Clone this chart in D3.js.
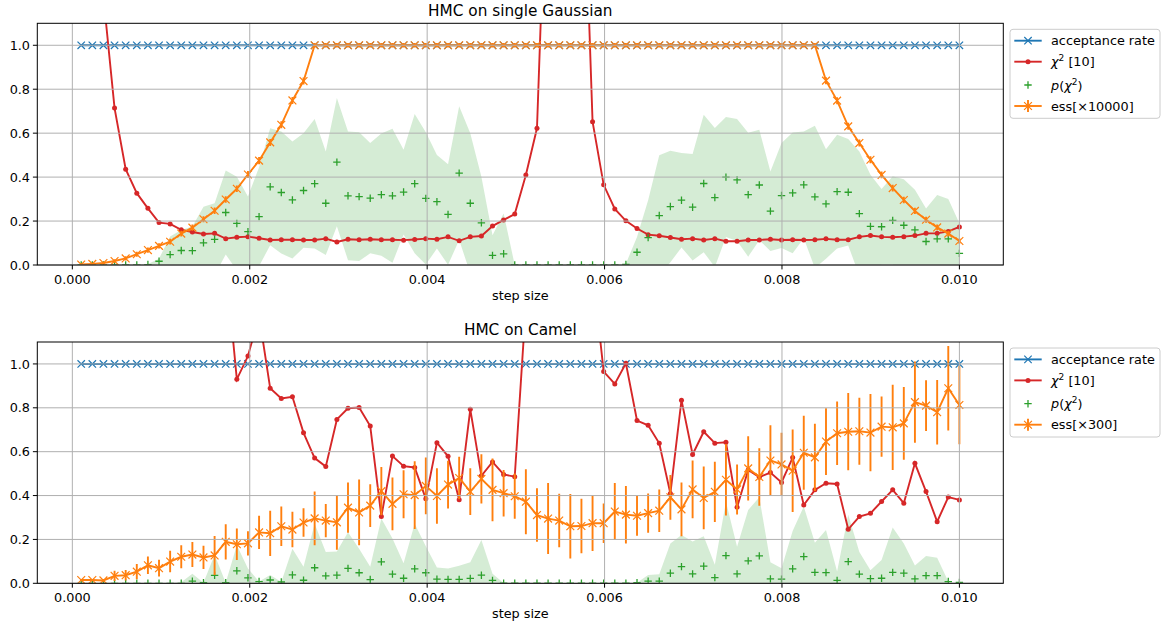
<!DOCTYPE html>
<html>
<head>
<meta charset="utf-8">
<script src="https://cdn.jsdelivr.net/npm/d3@7/dist/d3.min.js"></script>
<style>
    body { margin: 0; background: #ffffff; }
    svg text { font-family: "DejaVu Sans", sans-serif; fill: #000; }
</style>
</head>
<body>
<script>
/* ----------------------------------------------------------------------------
HMC diagnostics: two panels (single Gaussian, Camel), step size on x axis.
-----------------------------------------------------------------------------*/

// step sizes (x axis)
var stepSize = [
    0.0001000, 0.0002253, 0.0003506, 0.0004759, 0.0006013, 0.0007266,
    0.0008519, 0.0009772, 0.0011025, 0.0012278, 0.0013532, 0.0014785,
    0.0016038, 0.0017291, 0.0018544, 0.0019797, 0.0021051, 0.0022304,
    0.0023557, 0.0024810, 0.0026063, 0.0027316, 0.0028570, 0.0029823,
    0.0031076, 0.0032329, 0.0033582, 0.0034835, 0.0036089, 0.0037342,
    0.0038595, 0.0039848, 0.0041101, 0.0042354, 0.0043608, 0.0044861,
    0.0046114, 0.0047367, 0.0048620, 0.0049873, 0.0051127, 0.0052380,
    0.0053633, 0.0054886, 0.0056139, 0.0057392, 0.0058646, 0.0059899,
    0.0061152, 0.0062405, 0.0063658, 0.0064911, 0.0066165, 0.0067418,
    0.0068671, 0.0069924, 0.0071177, 0.0072430, 0.0073684, 0.0074937,
    0.0076190, 0.0077443, 0.0078696, 0.0079949, 0.0081203, 0.0082456,
    0.0083709, 0.0084962, 0.0086215, 0.0087468, 0.0088722, 0.0089975,
    0.0091228, 0.0092481, 0.0093734, 0.0094987, 0.0096241, 0.0097494,
    0.0098747, 0.0100000];

var xTicks = [0.000, 0.002, 0.004, 0.006, 0.008, 0.010];
var yTicks = [0.0, 0.2, 0.4, 0.6, 0.8, 1.0];

// ---------------- panel 1: HMC on single Gaussian ----------------
var accRate1 = [
    1, 1, 1, 1, 1, 1, 1, 1, 1, 1, 1, 1, 1, 1, 1, 1, 1, 1, 1, 1,
    1, 1, 1, 1, 1, 1, 1, 1, 1, 1, 1, 1, 1, 1, 1, 1, 1, 1, 1, 1,
    1, 1, 1, 1, 1, 1, 1, 1, 1, 1, 1, 1, 1, 1, 1, 1, 1, 1, 1, 1,
    1, 1, 1, 1, 1, 1, 1, 1, 1, 1, 1, 1, 1, 1, 1, 1, 1, 1, 1, 1];

var chi2_1 = [
    5.0, 2.5, 1.22, 0.714, 0.436, 0.327, 0.258, 0.193, 0.187, 0.160,
    0.150, 0.141, 0.144, 0.120, 0.126, 0.129, 0.122, 0.114, 0.115, 0.115,
    0.114, 0.114, 0.120, 0.105, 0.117, 0.115, 0.117, 0.115, 0.115, 0.113,
    0.116, 0.120, 0.117, 0.128, 0.110, 0.128, 0.132, 0.177, 0.205, 0.232,
    0.410, 0.622, 2.06, 5.0, 5.0, 2.14, 0.652, 0.365, 0.255, 0.201,
    0.166, 0.138, 0.133, 0.125, 0.117, 0.120, 0.114, 0.120, 0.108, 0.108,
    0.114, 0.114, 0.117, 0.114, 0.115, 0.114, 0.115, 0.119, 0.115, 0.115,
    0.128, 0.134, 0.128, 0.126, 0.129, 0.134, 0.144, 0.144, 0.153, 0.173];

var pChi2_1 = [
    0.0, 0.0, 0.0, 0.0, 0.0, 0.0, 0.002, 0.017, 0.047, 0.066,
    0.065, 0.101, 0.117, 0.239, 0.189, 0.152, 0.220, 0.356, 0.330, 0.296,
    0.339, 0.370, 0.281, 0.468, 0.315, 0.311, 0.304, 0.320, 0.315, 0.332,
    0.370, 0.303, 0.288, 0.230, 0.418, 0.281, 0.192, 0.044, 0.051, 0.0,
    0.0, 0.0, 0.0, 0.0, 0.0, 0.0, 0.0, 0.0, 0.0, 0.003,
    0.058, 0.125, 0.225, 0.266, 0.295, 0.263, 0.371, 0.307, 0.400, 0.387,
    0.320, 0.364, 0.245, 0.316, 0.328, 0.365, 0.310, 0.278, 0.334, 0.331,
    0.234, 0.176, 0.174, 0.203, 0.181, 0.160, 0.107, 0.119, 0.119, 0.053];

var pStd1 = [
    0.0, 0.0, 0.0, 0.0, 0.0, 0.0, 0.002, 0.012, 0.083, 0.093,
    0.110, 0.164, 0.164, 0.191, 0.213, 0.160, 0.225, 0.266, 0.278, 0.266,
    0.261, 0.295, 0.236, 0.292, 0.293, 0.293, 0.251, 0.278, 0.305, 0.193,
    0.317, 0.301, 0.213, 0.229, 0.304, 0.319, 0.210, 0.091, 0.183, 0.0,
    0.0, 0.0, 0.0, 0.0, 0.0, 0.0, 0.0, 0.0, 0.0, 0.003,
    0.070, 0.170, 0.275, 0.254, 0.215, 0.242, 0.313, 0.316, 0.273, 0.278,
    0.282, 0.251, 0.181, 0.239, 0.275, 0.243, 0.324, 0.249, 0.259, 0.242,
    0.283, 0.235, 0.172, 0.201, 0.209, 0.182, 0.150, 0.200, 0.181, 0.137];

var ess1 = [
    0.002, 0.005, 0.009, 0.018, 0.030, 0.049, 0.068, 0.087, 0.106, 0.143,
    0.170, 0.208, 0.247, 0.298, 0.347, 0.412, 0.475, 0.558, 0.638, 0.749,
    0.837, 1, 1, 1, 1, 1, 1, 1, 1, 1,
    1, 1, 1, 1, 1, 1, 1, 1, 1, 1,
    1, 1, 1, 1, 1, 1, 1, 1, 1, 1,
    1, 1, 1, 1, 1, 1, 1, 1, 1, 1,
    1, 1, 1, 1, 1, 1, 1, 0.839, 0.748, 0.631,
    0.555, 0.479, 0.410, 0.350, 0.296, 0.246, 0.206, 0.171, 0.143, 0.109];

var essErr1 = [
    0.004, 0.005, 0.006, 0.008, 0.010, 0.011, 0.012, 0.012, 0.013, 0.013,
    0.014, 0.014, 0.015, 0.015, 0.015, 0.016, 0.016, 0.016, 0.016, 0.016,
    0.016, 0.010, 0.010, 0.010, 0.010, 0.010, 0.010, 0.010, 0.010, 0.010,
    0.010, 0.010, 0.010, 0.010, 0.010, 0.010, 0.010, 0.010, 0.010, 0.010,
    0.010, 0.010, 0.010, 0.010, 0.010, 0.010, 0.010, 0.010, 0.010, 0.010,
    0.010, 0.010, 0.010, 0.010, 0.010, 0.010, 0.010, 0.010, 0.010, 0.010,
    0.010, 0.010, 0.010, 0.010, 0.010, 0.010, 0.010, 0.016, 0.016, 0.016,
    0.016, 0.016, 0.015, 0.015, 0.015, 0.014, 0.014, 0.013, 0.013, 0.012];

// ---------------- panel 2: HMC on Camel ----------------
var accRate2 = [
    1, 1, 1, 1, 1, 1, 1, 1, 1, 1, 1, 1, 1, 1, 1, 1, 1, 1, 1, 1,
    1, 1, 1, 1, 1, 1, 1, 1, 1, 1, 1, 1, 1, 1, 1, 1, 1, 1, 1, 1,
    1, 1, 1, 1, 1, 1, 1, 1, 1, 1, 1, 1, 1, 1, 1, 1, 1, 1, 1, 1,
    1, 1, 1, 1, 1, 1, 1, 1, 1, 1, 1, 1, 1, 1, 1, 1, 1, 1, 1, 1];

var chi2_2 = [
    5.0, 5.0, 5.0, 5.0, 5.0, 5.0, 5.0, 5.0, 5.0, 5.0,
    5.0, 5.0, 5.0, 1.46, 0.930, 1.036, 1.22, 0.889, 0.843, 0.850,
    0.686, 0.571, 0.532, 0.747, 0.798, 0.801, 0.717, 0.305, 0.580, 0.534,
    0.528, 0.385, 0.641, 0.579, 0.381, 0.793, 0.490, 0.553, 0.496, 0.486,
    1.27, 5.0, 5.0, 5.0, 5.0, 5.0, 1.43, 0.965, 0.909, 1.003,
    0.742, 0.720, 0.638, 0.409, 0.835, 0.587, 0.691, 0.639, 0.643, 0.347,
    0.517, 0.484, 0.505, 0.460, 0.573, 0.357, 0.426, 0.456, 0.453, 0.246,
    0.304, 0.319, 0.373, 0.426, 0.365, 0.547, 0.418, 0.281, 0.393, 0.380];

var pChi2_2 = [
    0.0, 0.0, 0.0, 0.0, 0.0, 0.0, 0.0, 0.0, 0.0, 0.0,
    0.010, 0.003, 0.036, 0.003, 0.057, 0.025, 0.008, 0.015, 0.006, 0.038,
    0.014, 0.071, 0.034, 0.037, 0.068, 0.048, 0.017, 0.098, 0.042, 0.023,
    0.066, 0.048, 0.019, 0.018, 0.018, 0.022, 0.037, 0.013, 0.001, 0.001,
    0.001, 0.001, 0.001, 0.001, 0.001, 0.001, 0.001, 0.001, 0.001, 0.001,
    0.003, 0.010, 0.010, 0.046, 0.076, 0.043, 0.078, 0.026, 0.126, 0.043,
    0.102, 0.125, 0.020, 0.019, 0.066, 0.122, 0.050, 0.049, 0.013, 0.099,
    0.042, 0.021, 0.023, 0.050, 0.046, 0.020, 0.035, 0.035, 0.008, 0.004];

var pStd2 = [
    0.0, 0.0, 0.0, 0.0, 0.0, 0.0, 0.0, 0.0, 0.0, 0.005,
    0.033, 0.0, 0.094, 0.0, 0.117, 0.042, 0.0, 0.023, 0.0, 0.120,
    0.061, 0.200, 0.109, 0.108, 0.165, 0.110, 0.058, 0.197, 0.162, 0.068,
    0.205, 0.121, 0.053, 0.050, 0.062, 0.074, 0.160, 0.031, 0.0, 0.0,
    0.0, 0.0, 0.0, 0.0, 0.0, 0.0, 0.0, 0.0, 0.0, 0.0,
    0.0, 0.028, 0.031, 0.136, 0.144, 0.147, 0.137, 0.058, 0.246, 0.124,
    0.232, 0.267, 0.076, 0.050, 0.172, 0.228, 0.135, 0.194, 0.041, 0.213,
    0.101, 0.038, 0.083, 0.204, 0.136, 0.061, 0.090, 0.082, 0.0, 0.0];

var ess2 = [
    0.015, 0.015, 0.013, 0.034, 0.037, 0.053, 0.082, 0.069, 0.099, 0.121,
    0.131, 0.118, 0.127, 0.189, 0.178, 0.182, 0.232, 0.228, 0.260, 0.245,
    0.277, 0.296, 0.286, 0.278, 0.345, 0.323, 0.354, 0.420, 0.362, 0.406,
    0.402, 0.444, 0.398, 0.450, 0.480, 0.418, 0.476, 0.426, 0.411, 0.397,
    0.372, 0.311, 0.295, 0.286, 0.260, 0.261, 0.274, 0.274, 0.327, 0.313,
    0.308, 0.320, 0.331, 0.392, 0.337, 0.428, 0.389, 0.417, 0.472, 0.428,
    0.524, 0.485, 0.560, 0.542, 0.513, 0.595, 0.574, 0.646, 0.684, 0.691,
    0.693, 0.687, 0.714, 0.711, 0.729, 0.826, 0.810, 0.780, 0.889, 0.813];

var essErr2 = [
    0.005, 0.005, 0.005, 0.023, 0.024, 0.035, 0.040, 0.038, 0.049, 0.052,
    0.057, 0.053, 0.089, 0.080, 0.072, 0.055, 0.076, 0.103, 0.090, 0.081,
    0.065, 0.122, 0.076, 0.125, 0.115, 0.150, 0.097, 0.110, 0.120, 0.109,
    0.154, 0.129, 0.126, 0.109, 0.097, 0.107, 0.112, 0.143, 0.106, 0.103,
    0.148, 0.122, 0.162, 0.122, 0.147, 0.124, 0.127, 0.090, 0.130, 0.131,
    0.091, 0.089, 0.097, 0.102, 0.122, 0.132, 0.143, 0.137, 0.163, 0.114,
    0.146, 0.131, 0.160, 0.144, 0.188, 0.169, 0.153, 0.152, 0.145, 0.176,
    0.153, 0.176, 0.137, 0.194, 0.166, 0.185, 0.116, 0.147, 0.193, 0.179];

/* ----------------------------------------------------------------------------
Layout (pixels of the 1166x626 picture)
-----------------------------------------------------------------------------*/
var width = 1166, height = 626;
var plotLeft = 37.3, plotRight = 1003.3;
var fontSize = "12.8px";
var colors = {acc: "#1f77b4", chi2: "#d62728", p: "#2ca02c", ess: "#ff7f0e"};

var svg = d3.select("body").append("svg")
    .attr("width", width)
    .attr("height", height);

// matplotlib default 5% margin round the data range
var xScale = d3.scaleLinear()
    .domain([-0.000395, 0.010495])
    .range([plotLeft, plotRight]);

// marker shapes
function xMark(s) {
    return "M" + (-s) + "," + (-s) + "L" + s + "," + s +
           "M" + (-s) + "," + s + "L" + s + "," + (-s);
}
function plusMark(s) {
    return "M" + (-s) + ",0L" + s + ",0M0," + (-s) + "L0," + s;
}

function drawPanel(cfg) {
    var yScale = d3.scaleLinear().domain([0, 1.1])
        .range([cfg.bottom, cfg.top]);
    var idx = d3.range(stepSize.length);
    var g = svg.append("g");

    // clip everything to the axes box
    var clipId = "clip" + cfg.id;
    g.append("clipPath").attr("id", clipId)
        .append("rect")
        .attr("x", plotLeft).attr("y", cfg.top)
        .attr("width", plotRight - plotLeft)
        .attr("height", cfg.bottom - cfg.top);
    var plot = g.append("g").attr("clip-path", "url(#" + clipId + ")");

    // p(chi2) band, drawn under the grid
    var band = d3.area()
        .x(function (i) { return xScale(stepSize[i]); })
        .y0(function (i) { return yScale(cfg.p[i] - cfg.pStd[i]); })
        .y1(function (i) { return yScale(cfg.p[i] + cfg.pStd[i]); });
    plot.append("path")
        .attr("d", band(idx))
        .attr("fill", colors.p)
        .attr("fill-opacity", 0.2);

    // grid
    g.selectAll(".gx").data(xTicks).enter().append("line")
        .attr("x1", function (d) { return xScale(d); })
        .attr("x2", function (d) { return xScale(d); })
        .attr("y1", cfg.top).attr("y2", cfg.bottom)
        .attr("stroke", "#b0b0b0").attr("stroke-width", 1);
    g.selectAll(".gy").data(yTicks).enter().append("line")
        .attr("x1", plotLeft).attr("x2", plotRight)
        .attr("y1", function (d) { return yScale(d); })
        .attr("y2", function (d) { return yScale(d); })
        .attr("stroke", "#b0b0b0").attr("stroke-width", 1);

    function line(values) {
        return d3.line()
            .x(function (i) { return xScale(stepSize[i]); })
            .y(function (i) { return yScale(values[i]); })(idx);
    }

    // acceptance rate
    plot.append("path").attr("d", line(cfg.acc))
        .attr("fill", "none").attr("stroke", colors.acc)
        .attr("stroke-width", 1.9);
    plot.selectAll(".acc").data(idx).enter().append("path")
        .attr("d", xMark(3.7))
        .attr("transform", function (i) {
            return "translate(" + xScale(stepSize[i]) + "," +
                yScale(cfg.acc[i]) + ")";
        })
        .attr("fill", "none").attr("stroke", colors.acc)
        .attr("stroke-width", 1.2);

    // chi2
    plot.append("path").attr("d", line(cfg.chi2))
        .attr("fill", "none").attr("stroke", colors.chi2)
        .attr("stroke-width", 1.9);
    plot.selectAll(".chi").data(idx).enter().append("circle")
        .attr("cx", function (i) { return xScale(stepSize[i]); })
        .attr("cy", function (i) { return yScale(cfg.chi2[i]); })
        .attr("r", 2.5)
        .attr("fill", colors.chi2);

    // p(chi2) markers only
    plot.selectAll(".pm").data(idx).enter().append("path")
        .attr("d", plusMark(3.7))
        .attr("transform", function (i) {
            return "translate(" + xScale(stepSize[i]) + "," +
                yScale(cfg.p[i]) + ")";
        })
        .attr("fill", "none").attr("stroke", colors.p)
        .attr("stroke-width", 1.3);

    // ess with error bars
    plot.selectAll(".err").data(idx).enter().append("line")
        .attr("x1", function (i) { return xScale(stepSize[i]); })
        .attr("x2", function (i) { return xScale(stepSize[i]); })
        .attr("y1", function (i) { return yScale(cfg.ess[i] - cfg.essErr[i]); })
        .attr("y2", function (i) { return yScale(cfg.ess[i] + cfg.essErr[i]); })
        .attr("stroke", colors.ess).attr("stroke-width", 1.9);
    plot.append("path").attr("d", line(cfg.ess))
        .attr("fill", "none").attr("stroke", colors.ess)
        .attr("stroke-width", 1.9);
    plot.selectAll(".em").data(idx).enter().append("path")
        .attr("d", xMark(3.9))
        .attr("transform", function (i) {
            return "translate(" + xScale(stepSize[i]) + "," +
                yScale(cfg.ess[i]) + ")";
        })
        .attr("fill", "none").attr("stroke", colors.ess)
        .attr("stroke-width", 1.2);

    // spines
    g.append("rect")
        .attr("x", plotLeft).attr("y", cfg.top)
        .attr("width", plotRight - plotLeft)
        .attr("height", cfg.bottom - cfg.top)
        .attr("fill", "none").attr("stroke", "#000").attr("stroke-width", 1);

    // x ticks and labels
    var xt = g.selectAll(".xt").data(xTicks).enter().append("g")
        .attr("transform", function (d) {
            return "translate(" + xScale(d) + "," + cfg.bottom + ")";
        });
    xt.append("line").attr("y1", 0).attr("y2", 4.4)
        .attr("stroke", "#000").attr("stroke-width", 1);
    xt.append("text").attr("y", 19.2)
        .attr("text-anchor", "middle").attr("font-size", fontSize)
        .text(d3.format(".3f"));

    // y ticks and labels
    var yt = g.selectAll(".yt").data(yTicks).enter().append("g")
        .attr("transform", function (d) {
            return "translate(" + plotLeft + "," + yScale(d) + ")";
        });
    yt.append("line").attr("x1", 0).attr("x2", -4.4)
        .attr("stroke", "#000").attr("stroke-width", 1);
    yt.append("text").attr("x", -7.3).attr("dy", "0.36em")
        .attr("text-anchor", "end").attr("font-size", fontSize)
        .text(d3.format(".1f"));

    // title and axis label
    g.append("text")
        .attr("x", (plotLeft + plotRight) / 2).attr("y", cfg.top - 7.3)
        .attr("text-anchor", "middle").attr("font-size", "15.3px")
        .text(cfg.title);
    g.append("text")
        .attr("x", (plotLeft + plotRight) / 2).attr("y", cfg.bottom + 34.5)
        .attr("text-anchor", "middle").attr("font-size", fontSize)
        .text("step size");

    // legend
    var lg = g.append("g").attr("transform",
        "translate(1010," + (cfg.top + 6) + ")");
    lg.append("rect")
        .attr("width", 150).attr("height", 89).attr("rx", 3)
        .attr("fill", "#fff").attr("fill-opacity", 0.8)
        .attr("stroke", "#cccccc").attr("stroke-width", 1);
    var rows = [11.4, 32.4, 55.7, 76.7];
    var hx0 = 4.3, hx1 = 31.7, hm = 18;

    // acceptance rate
    lg.append("line").attr("x1", hx0).attr("x2", hx1)
        .attr("y1", rows[0]).attr("y2", rows[0])
        .attr("stroke", colors.acc).attr("stroke-width", 1.9);
    lg.append("path").attr("d", xMark(3.7))
        .attr("transform", "translate(" + hm + "," + rows[0] + ")")
        .attr("fill", "none").attr("stroke", colors.acc)
        .attr("stroke-width", 1.2);
    lg.append("text").attr("x", 41).attr("y", rows[0]).attr("dy", "0.36em")
        .attr("font-size", fontSize).text("acceptance rate");

    // chi2
    lg.append("line").attr("x1", hx0).attr("x2", hx1)
        .attr("y1", rows[1]).attr("y2", rows[1])
        .attr("stroke", colors.chi2).attr("stroke-width", 1.9);
    lg.append("circle").attr("cx", hm).attr("cy", rows[1]).attr("r", 2.5)
        .attr("fill", colors.chi2);
    var t1 = lg.append("text").attr("x", 41).attr("y", rows[1] + 4.6)
        .attr("font-size", fontSize);
    t1.append("tspan").attr("font-style", "italic").text("\u03c7");
    t1.append("tspan").attr("dy", -5).attr("font-size", "9px").text("2");
    t1.append("tspan").attr("dy", 5).text(" [10]");

    // p(chi2)
    lg.append("path").attr("d", plusMark(3.7))
        .attr("transform", "translate(" + hm + "," + rows[2] + ")")
        .attr("fill", "none").attr("stroke", colors.p)
        .attr("stroke-width", 1.3);
    var t2 = lg.append("text").attr("x", 41).attr("y", rows[2] + 4.6)
        .attr("font-size", fontSize);
    t2.append("tspan").attr("font-style", "italic").text("p");
    t2.append("tspan").text("(");
    t2.append("tspan").attr("font-style", "italic").text("\u03c7");
    t2.append("tspan").attr("dy", -5).attr("font-size", "9px").text("2");
    t2.append("tspan").attr("dy", 5).text(")");

    // ess
    lg.append("line").attr("x1", hx0).attr("x2", hx1)
        .attr("y1", rows[3]).attr("y2", rows[3])
        .attr("stroke", colors.ess).attr("stroke-width", 1.9);
    lg.append("line").attr("x1", hm).attr("x2", hm)
        .attr("y1", rows[3] - 6).attr("y2", rows[3] + 6)
        .attr("stroke", colors.ess).attr("stroke-width", 1.9);
    lg.append("path").attr("d", xMark(3.9))
        .attr("transform", "translate(" + hm + "," + rows[3] + ")")
        .attr("fill", "none").attr("stroke", colors.ess)
        .attr("stroke-width", 1.2);
    lg.append("text").attr("x", 41).attr("y", rows[3]).attr("dy", "0.36em")
        .attr("font-size", fontSize).text(cfg.essLabel);
}

drawPanel({
    id: 1, top: 23.3, bottom: 265, title: "HMC on single Gaussian",
    essLabel: "ess[\u00d710000]",
    acc: accRate1, chi2: chi2_1, p: pChi2_1, pStd: pStd1,
    ess: ess1, essErr: essErr1
});

drawPanel({
    id: 2, top: 342, bottom: 583.3, title: "HMC on Camel",
    essLabel: "ess[\u00d7300]",
    acc: accRate2, chi2: chi2_2, p: pChi2_2, pStd: pStd2,
    ess: ess2, essErr: essErr2
});
</script>
</body>
</html>
